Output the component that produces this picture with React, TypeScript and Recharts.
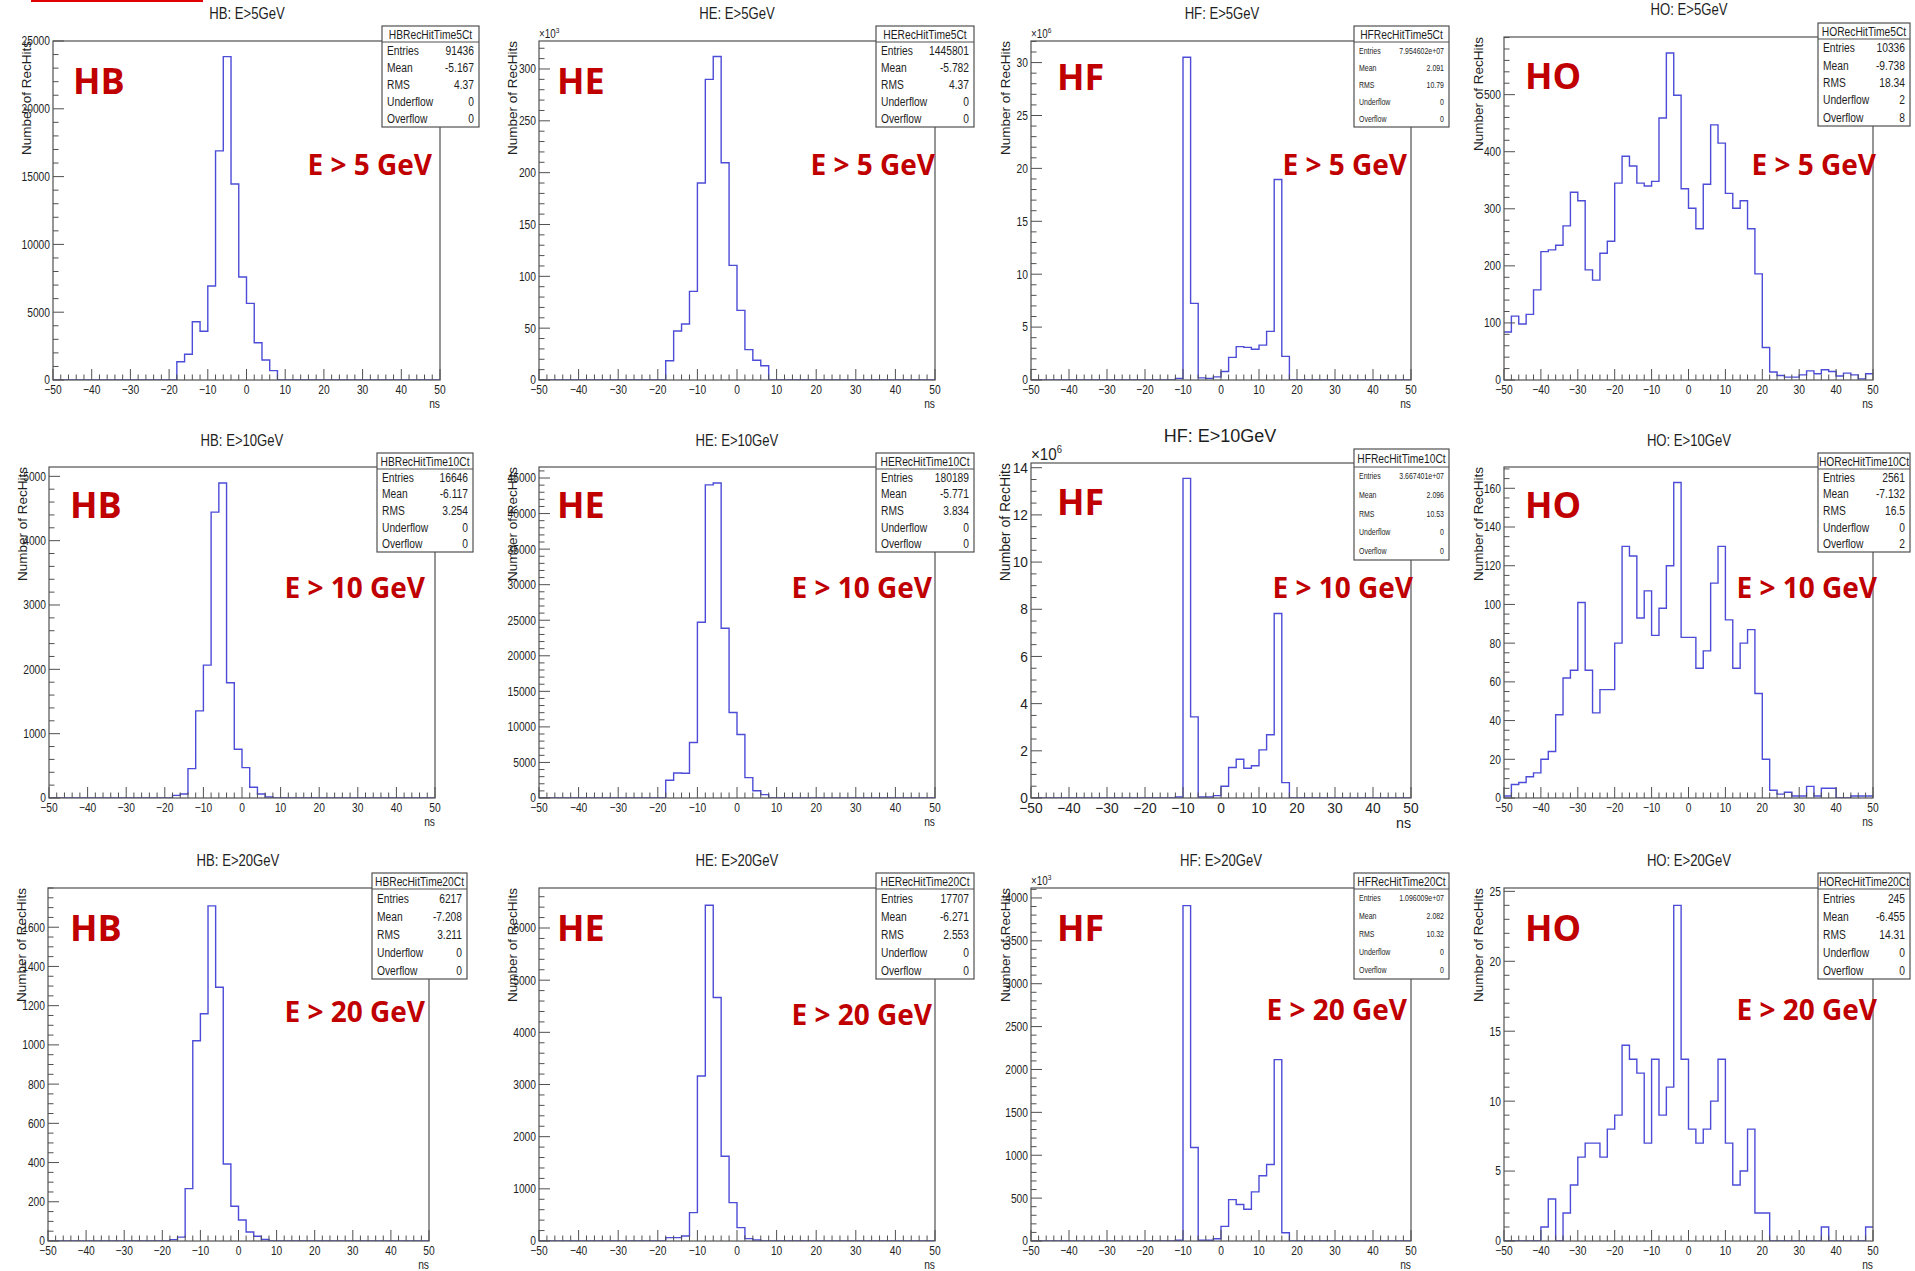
import { LineChart, Line, XAxis, YAxis } from 'recharts';

// bin edges (2 ns bins from -50 to 50 ns); also used as the x tick positions
const binEdges = [
  -50, -48, -46, -44, -42, -40, -38, -36, -34, -32,
  -30, -28, -26, -24, -22, -20, -18, -16, -14, -12,
  -10, -8, -6, -4, -2, 0, 2, 4, 6, 8,
  10, 12, 14, 16, 18, 20, 22, 24, 26, 28,
  30, 32, 34, 36, 38, 40, 42, 44, 46, 48, 50,
];
const xMajorStep = 10;

// counts per bin
const hb5 = [
  0, 0, 0, 0, 0, 0, 0, 0, 0, 0,
  0, 0, 0, 0, 0, 0, 1350, 1900, 4300, 3600,
  6930, 16900, 23850, 14450, 7600, 5650, 2750, 1470, 690, 0,
  0, 0, 0, 0, 0, 0, 0, 0, 0, 0,
  0, 0, 0, 0, 0, 0, 0, 0, 0, 0,
];
// x10^3
const he5 = [
  0, 0, 0, 0, 0, 0, 0, 0, 0, 0,
  0, 0, 0, 0, 0, 0, 18.6, 47.3, 54, 85.5,
  190, 290, 312, 209.6, 110.6, 67.2, 29.3, 19, 13.8, 0,
  0, 0, 0, 0, 0, 0, 0, 0, 0, 0,
  0, 0, 0, 0, 0, 0, 0, 0, 0, 0,
];
// x10^6
const hf5 = [
  0, 0, 0, 0, 0, 0, 0, 0, 0, 0,
  0, 0, 0, 0, 0, 0, 0, 0, 0, 0.15,
  30.5, 7.24, 0.2, 0.15, 0.3, 0.8, 2.14, 3.15, 3.08, 2.9,
  3.3, 4.6, 18.95, 2.23, 0, 0, 0, 0, 0, 0,
  0, 0, 0, 0, 0, 0, 0, 0, 0, 0,
];
const ho5 = [
  84, 112, 98, 115, 158, 225, 228, 236, 270, 329,
  314, 193, 175, 222, 243, 345, 392, 375, 345, 340,
  348, 459, 573, 499, 335, 301, 265, 343, 447, 415,
  327, 301, 314, 265, 186, 57, 14, 8, 5, 5,
  9, 16, 11, 18, 15, 7, 12, 9, 2, 11,
];
const hb10 = [
  0, 0, 0, 0, 0, 0, 0, 0, 0, 0,
  0, 0, 0, 0, 0, 0, 41, 62, 457, 1355,
  2066, 4444, 4896, 1791, 758, 472, 166, 62, 16, 0,
  0, 0, 0, 0, 0, 0, 0, 0, 0, 0,
  0, 0, 0, 0, 0, 0, 0, 0, 0, 0,
];
const he10 = [
  0, 0, 0, 0, 0, 0, 0, 0, 0, 0,
  0, 0, 0, 0, 0, 0, 2490, 3520, 3480, 7800,
  24720, 44030, 44310, 23870, 12030, 8930, 2870, 1030, 470, 0,
  0, 0, 0, 0, 0, 0, 0, 0, 0, 0,
  0, 0, 0, 0, 0, 0, 0, 0, 0, 0,
];
// x10^6
const hf10 = [
  0, 0, 0, 0, 0, 0, 0, 0, 0, 0,
  0, 0, 0, 0, 0, 0, 0, 0, 0, 0.04,
  13.55, 3.44, 0.04, 0.04, 0.1, 0.5, 1.29, 1.64, 1.26, 1.37,
  2.04, 2.68, 7.82, 0.65, 0, 0, 0, 0, 0, 0,
  0, 0, 0, 0, 0, 0, 0, 0, 0, 0,
];
const ho10 = [
  1, 7, 8, 11, 13, 20, 24, 43, 62, 66,
  101, 66, 44, 56, 56, 80, 130, 125, 93, 107,
  84, 98, 120, 163, 83, 83, 67, 76, 111, 130,
  92, 67, 80, 87, 54, 20, 4, 2, 3, 1,
  1, 6, 1, 5, 5, 0, 0, 1, 1, 1,
];
const hb20 = [
  0, 0, 0, 0, 0, 0, 0, 0, 0, 0,
  0, 0, 0, 0, 0, 0, 7, 20, 267, 1021,
  1159, 1709, 1294, 393, 177, 107, 46, 24, 8, 0,
  0, 0, 0, 0, 0, 0, 0, 0, 0, 0,
  0, 0, 0, 0, 0, 0, 0, 0, 0, 0,
];
const he20 = [
  0, 0, 0, 0, 0, 0, 0, 0, 0, 0,
  0, 0, 0, 0, 0, 0, 64, 64, 96, 544,
  3163, 6435, 4668, 1626, 736, 256, 45, 19, 0, 0,
  0, 0, 0, 0, 0, 0, 0, 0, 0, 0,
  0, 0, 0, 0, 0, 0, 0, 0, 0, 0,
];
// x10^3
const hf20 = [
  0, 0, 0, 0, 0, 0, 0, 0, 0, 0,
  0, 0, 0, 0, 0, 0, 0, 0, 0, 8,
  3910, 1090, 8, 8, 27, 171, 483, 425, 370, 573,
  760, 892, 2115, 97, 0, 0, 0, 0, 0, 0,
  0, 0, 0, 0, 0, 0, 0, 0, 0, 0,
];
const ho20 = [
  0, 0, 0, 0, 0, 1, 3, 0, 2, 4,
  6, 7, 7, 6, 8, 9, 14, 13, 12, 7,
  13, 9, 11, 24, 13, 8, 7, 8, 10, 13,
  7, 4, 5, 8, 2, 2, 0, 0, 0, 0,
  0, 0, 0, 1, 0, 0, 0, 0, 0, 1,
];

// y axis major tick labels
const hb5YTicks = [0, 5000, 10000, 15000, 20000, 25000];
const he5YTicks = [0, 50, 100, 150, 200, 250, 300];
const hf5YTicks = [0, 5, 10, 15, 20, 25, 30];
const ho5YTicks = [0, 100, 200, 300, 400, 500];
const hb10YTicks = [0, 1000, 2000, 3000, 4000, 5000];
const he10YTicks = [0, 5000, 10000, 15000, 20000, 25000, 30000, 35000, 40000, 45000];
const hf10YTicks = [0, 2, 4, 6, 8, 10, 12, 14];
const ho10YTicks = [0, 20, 40, 60, 80, 100, 120, 140, 160];
const hb20YTicks = [0, 200, 400, 600, 800, 1000, 1200, 1400, 1600];
const he20YTicks = [0, 1000, 2000, 3000, 4000, 5000, 6000];
const hf20YTicks = [0, 500, 1000, 1500, 2000, 2500, 3000, 3500, 4000];
const ho20YTicks = [0, 5, 10, 15, 20, 25];

// stats boxes
const statLabels = ['Entries', 'Mean', 'RMS', 'Underflow', 'Overflow'];
const hb5Stats = ['91436', '-5.167', '4.37', '0', '0'];
const he5Stats = ['1445801', '-5.782', '4.37', '0', '0'];
const hf5Stats = ['7.954602e+07', '2.091', '10.79', '0', '0'];
const ho5Stats = ['10336', '-9.738', '18.34', '2', '8'];
const hb10Stats = ['16646', '-6.117', '3.254', '0', '0'];
const he10Stats = ['180189', '-5.771', '3.834', '0', '0'];
const hf10Stats = ['3.667401e+07', '2.096', '10.53', '0', '0'];
const ho10Stats = ['2561', '-7.132', '16.5', '0', '2'];
const hb20Stats = ['6217', '-7.208', '3.211', '0', '0'];
const he20Stats = ['17707', '-6.271', '2.553', '0', '0'];
const hf20Stats = ['1.096009e+07', '2.082', '10.32', '0', '0'];
const ho20Stats = ['245', '-6.455', '14.31', '0', '0'];

const SANS = '"Liberation Sans", Arial, sans-serif';
const RED_FONT = '"Open Sans", "Noto Sans", sans-serif';
const SQUEEZE = 0.82; // the ROOT canvases were shrunk sideways
const LINE = '#4c4cd8';
const FRAME = '#505050';
const INK = '#1e1e1e';
const RED = '#c00000';

type Panel = {
  counts: number[];
  yMax: number;
  yMajor: number[];
  yMinor: number;
  title: string;
  statName: string;
  stats: string[];
  tag: string;
  cut: string;
  exp?: number;
  big?: boolean;
  smallStats?: boolean;
  frame: [number, number, number, number];
  statBox: [number, number, number, number];
  titleAt: [number, number];
  axisTitleX: number;
  tagAt: [number, number];
  cutAt: [number, number];
};

const panels: Panel[] = [
  { counts: hb5, yMax: 25000, yMajor: hb5YTicks, yMinor: 1000, title: 'HB: E>5GeV', statName: 'HBRecHitTime5Ct', stats: hb5Stats, tag: 'HB', cut: 'E > 5 GeV',
    frame: [53, 41, 440, 380], statBox: [382, 26, 479, 127], titleAt: [247, 19], axisTitleX: 26, tagAt: [73, 94], cutAt: [432, 175] },
  { counts: he5, yMax: 327, yMajor: he5YTicks, yMinor: 10, title: 'HE: E>5GeV', statName: 'HERecHitTime5Ct', stats: he5Stats, tag: 'HE', cut: 'E > 5 GeV', exp: 3,
    frame: [539, 41, 935, 380], statBox: [876, 26, 974, 127], titleAt: [737, 19], axisTitleX: 512, tagAt: [557, 94], cutAt: [935, 175] },
  { counts: hf5, yMax: 32.04, yMajor: hf5YTicks, yMinor: 1, title: 'HF: E>5GeV', statName: 'HFRecHitTime5Ct', stats: hf5Stats, tag: 'HF', cut: 'E > 5 GeV', exp: 6, smallStats: true,
    frame: [1031, 41, 1411, 380], statBox: [1354, 26, 1449, 127], titleAt: [1222, 19], axisTitleX: 1005, tagAt: [1057, 90], cutAt: [1407, 175] },
  { counts: ho5, yMax: 601, yMajor: ho5YTicks, yMinor: 20, title: 'HO: E>5GeV', statName: 'HORecHitTime5Ct', stats: ho5Stats, tag: 'HO', cut: 'E > 5 GeV',
    frame: [1504, 37, 1873, 380], statBox: [1818, 23, 1910, 126], titleAt: [1689, 15], axisTitleX: 1478, tagAt: [1525, 89], cutAt: [1876, 175] },

  { counts: hb10, yMax: 5145, yMajor: hb10YTicks, yMinor: 200, title: 'HB: E>10GeV', statName: 'HBRecHitTime10Ct', stats: hb10Stats, tag: 'HB', cut: 'E > 10 GeV',
    frame: [49, 467, 435, 798], statBox: [377, 453, 473, 552], titleAt: [242, 446], axisTitleX: 22, tagAt: [70, 518], cutAt: [425, 598] },
  { counts: he10, yMax: 46550, yMajor: he10YTicks, yMinor: 1000, title: 'HE: E>10GeV', statName: 'HERecHitTime10Ct', stats: he10Stats, tag: 'HE', cut: 'E > 10 GeV',
    frame: [539, 467, 935, 798], statBox: [876, 453, 974, 552], titleAt: [737, 446], axisTitleX: 512, tagAt: [557, 518], cutAt: [932, 598] },
  { counts: hf10, yMax: 14.2, yMajor: hf10YTicks, yMinor: 0.5, title: 'HF: E>10GeV', statName: 'HFRecHitTime10Ct', stats: hf10Stats, tag: 'HF', cut: 'E > 10 GeV', exp: 6, big: true, smallStats: true,
    frame: [1031, 463, 1411, 798], statBox: [1354, 449, 1449, 560], titleAt: [1220, 442], axisTitleX: 1005, tagAt: [1057, 515], cutAt: [1413, 598] },
  { counts: ho10, yMax: 171, yMajor: ho10YTicks, yMinor: 5, title: 'HO: E>10GeV', statName: 'HORecHitTime10Ct', stats: ho10Stats, tag: 'HO', cut: 'E > 10 GeV',
    frame: [1504, 467, 1873, 798], statBox: [1818, 453, 1910, 552], titleAt: [1689, 446], axisTitleX: 1478, tagAt: [1525, 518], cutAt: [1877, 598] },

  { counts: hb20, yMax: 1800, yMajor: hb20YTicks, yMinor: 50, title: 'HB: E>20GeV', statName: 'HBRecHitTime20Ct', stats: hb20Stats, tag: 'HB', cut: 'E > 20 GeV',
    frame: [48, 888, 429, 1241], statBox: [372, 873, 467, 979], titleAt: [238, 866], axisTitleX: 21, tagAt: [70, 941], cutAt: [425, 1022] },
  { counts: he20, yMax: 6767, yMajor: he20YTicks, yMinor: 200, title: 'HE: E>20GeV', statName: 'HERecHitTime20Ct', stats: he20Stats, tag: 'HE', cut: 'E > 20 GeV',
    frame: [539, 888, 935, 1241], statBox: [876, 873, 974, 979], titleAt: [737, 866], axisTitleX: 512, tagAt: [557, 941], cutAt: [932, 1025] },
  { counts: hf20, yMax: 4116, yMajor: hf20YTicks, yMinor: 100, title: 'HF: E>20GeV', statName: 'HFRecHitTime20Ct', stats: hf20Stats, tag: 'HF', cut: 'E > 20 GeV', exp: 3, smallStats: true,
    frame: [1031, 888, 1411, 1241], statBox: [1354, 873, 1449, 979], titleAt: [1221, 866], axisTitleX: 1005, tagAt: [1057, 941], cutAt: [1407, 1020] },
  { counts: ho20, yMax: 25.24, yMajor: ho20YTicks, yMinor: 1, title: 'HO: E>20GeV', statName: 'HORecHitTime20Ct', stats: ho20Stats, tag: 'HO', cut: 'E > 20 GeV',
    frame: [1504, 888, 1873, 1241], statBox: [1818, 873, 1910, 979], titleAt: [1689, 866], axisTitleX: 1478, tagAt: [1525, 941], cutAt: [1877, 1020] },
];

const ML = 60;
const MR = 10;
const MT = 10;
const MB = 40;

function minorTicks(yMax: number, step: number) {
  const out: number[] = [];
  for (let k = 0; k * step <= yMax + 1e-9; k++) out.push(+(k * step).toFixed(4));
  return out;
}

function isMultiple(v: number, step: number) {
  const r = v / step;
  return Math.abs(r - Math.round(r)) < 1e-6;
}

function fmtX(v: number) {
  return v < 0 ? `\u2212${-v}` : `${v}`;
}

// text squeezed sideways, like the ROOT labels in the picture
function NText(props: {
  x: number;
  y: number;
  size: number;
  anchor?: 'start' | 'middle' | 'end';
  dy?: string;
  sx?: number;
  children: any;
}) {
  const { x, y, size, anchor = 'start', dy, sx = SQUEEZE, children } = props;
  return (
    <g transform={`translate(${x},${y}) scale(${sx},1)`}>
      <text x={0} y={0} dy={dy} textAnchor={anchor} fontFamily={SANS} fontSize={size} fill={INK}>
        {children}
      </text>
    </g>
  );
}

function HistPanel({ p }: { p: Panel }) {
  const [l, t, r, b] = p.frame;
  const data = binEdges.map((e, i) => ({ x: e, y: p.counts[Math.min(i, p.counts.length - 1)] }));
  const tickSize = p.big ? 14.5 : 12.5;
  const sx = p.big ? 0.95 : SQUEEZE;
  const majorLen = 11;
  const minorLen = 5.5;

  const xTick = (props: any) => {
    const { x, y, payload } = props;
    const v = payload.value as number;
    const major = isMultiple(v, xMajorStep);
    return (
      <g>
        <line x1={x} x2={x} y1={y} y2={y - (major ? majorLen : minorLen)} stroke={FRAME} strokeWidth={1} />
        {major && (
          <NText x={x} y={y + (p.big ? 15 : 13.5)} size={tickSize} anchor="middle" sx={sx}>
            {fmtX(v)}
          </NText>
        )}
      </g>
    );
  };

  const yTick = (props: any) => {
    const { x, y, payload } = props;
    const v = payload.value as number;
    const major = p.yMajor.some((m) => Math.abs(m - v) < 1e-6);
    return (
      <g>
        <line x1={x} x2={x + (major ? majorLen : minorLen)} y1={y} y2={y} stroke={FRAME} strokeWidth={1} />
        {major && (
          <NText x={x - 3} y={y} dy="0.35em" size={tickSize} anchor="end" sx={sx}>
            {v}
          </NText>
        )}
      </g>
    );
  };

  // axes need a size of at least 1px to be drawn
  return (
    <div style={{ position: 'absolute', left: l - ML, top: t - MT }}>
      <LineChart
        width={r - l + ML + MR}
        height={b - t + MT + MB}
        data={data}
        margin={{ top: MT, right: MR, bottom: MB - 1, left: ML - 1 }}
      >
        <XAxis
          type="number"
          dataKey="x"
          domain={[-50, 50]}
          ticks={binEdges}
          interval={0}
          height={1}
          tickSize={0}
          tickMargin={0}
          axisLine={false}
          tickLine={false}
          tick={xTick}
        />
        <YAxis
          type="number"
          domain={[0, p.yMax]}
          ticks={minorTicks(p.yMax, p.yMinor)}
          interval={0}
          width={1}
          tickSize={0}
          tickMargin={0}
          axisLine={false}
          tickLine={false}
          tick={yTick}
          allowDataOverflow
        />
        <Line
          type="stepAfter"
          dataKey="y"
          stroke={LINE}
          strokeWidth={1.4}
          dot={false}
          activeDot={false}
          isAnimationActive={false}
        />
      </LineChart>
    </div>
  );
}

function StatsBox({ p }: { p: Panel }) {
  const [l, t, r, b] = p.statBox;
  const titleH = p.big ? 18 : 16;
  const rowH = (b - t - titleH) / statLabels.length;
  const rowFont = p.smallStats ? 8.5 : 12.5;
  return (
    <g>
      <rect x={l} y={t} width={r - l} height={b - t} fill="#fff" stroke={FRAME} strokeWidth={1.2} />
      <line x1={l} x2={r} y1={t + titleH} y2={t + titleH} stroke={FRAME} strokeWidth={1.2} />
      <NText x={(l + r) / 2} y={t + titleH / 2} dy="0.36em" anchor="middle" size={12.5}>
        {p.statName}
      </NText>
      {statLabels.map((lab, i) => {
        const cy = t + titleH + rowH * (i + 0.5);
        return (
          <g key={lab}>
            <NText x={l + 5} y={cy} dy="0.36em" size={rowFont}>{lab}</NText>
            <NText x={r - 5} y={cy} dy="0.36em" anchor="end" size={rowFont}>{p.stats[i]}</NText>
          </g>
        );
      })}
    </g>
  );
}

function Decorations({ p }: { p: Panel }) {
  const [l, t, r, b] = p.frame;
  return (
    <g>
      <rect x={l} y={t} width={r - l} height={b - t} fill="none" stroke={FRAME} strokeWidth={1.2} />
      <NText x={p.titleAt[0]} y={p.titleAt[1]} anchor="middle" size={p.big ? 18 : 16} sx={p.big ? 1 : SQUEEZE}>
        {p.title}
      </NText>
      <text
        transform={`translate(${p.axisTitleX},${t}) rotate(-90)`}
        textAnchor="end"
        dy="0.35em"
        fontFamily={SANS}
        fontSize={p.big ? 14 : 13.5}
        fill={INK}
      >
        Number of RecHits
      </text>
      {p.exp && (
        <g transform={`translate(${l},${t - 3}) scale(${p.big ? 0.95 : SQUEEZE},1)`}>
          <text x={0} y={0} fontFamily={SANS} fontSize={p.big ? 16 : 12} fill={INK}>
            {'\u00d710'}
            <tspan dy={p.big ? -7 : -5} fontSize={p.big ? 10 : 8}>{p.exp}</tspan>
          </text>
        </g>
      )}
      <NText x={r} y={b + (p.big ? 30 : 28)} anchor="end" size={p.big ? 15 : 12.5} sx={p.big ? 0.95 : SQUEEZE}>
        ns
      </NText>
      <StatsBox p={p} />
      <text x={p.tagAt[0]} y={p.tagAt[1]} fontFamily={RED_FONT} fontWeight={700} fontSize={36} fill={RED}>
        {p.tag}
      </text>
      <text x={p.cutAt[0]} y={p.cutAt[1]} textAnchor="end" fontFamily={RED_FONT} fontWeight={700} fontSize={28} fill={RED}>
        {p.cut}
      </text>
    </g>
  );
}

export default function App() {
  return (
    <div style={{ position: 'absolute', left: 0, top: 0, width: 1915, height: 1271, background: '#fff', overflow: 'hidden' }}>
      {panels.map((p) => (
        <HistPanel key={p.statName} p={p} />
      ))}
      <svg
        width={1915}
        height={1271}
        style={{ position: 'absolute', left: 0, top: 0, pointerEvents: 'none' }}
      >
        <rect x={31} y={0} width={172} height={2} fill="#e00000" />
        {panels.map((p) => (
          <Decorations key={p.statName} p={p} />
        ))}
      </svg>
    </div>
  );
}
